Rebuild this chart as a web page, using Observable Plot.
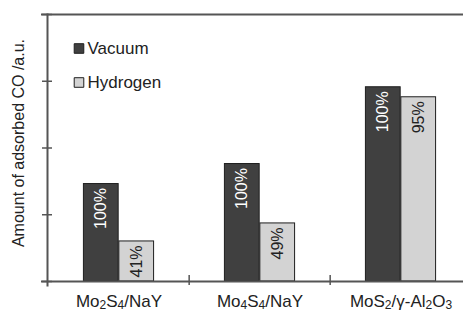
<!DOCTYPE html>
<html>
<head>
<meta charset="utf-8">
<script src="https://cdn.jsdelivr.net/npm/d3@7"></script>
<script src="https://cdn.jsdelivr.net/npm/@observablehq/plot@0.6"></script>
<style>
  html, body { margin: 0; padding: 0; background: #fff; }
  #chart svg { display: block; }
</style>
</head>
<body>
<div id="chart"></div>
<script>
const categories = ["Mo2S4/NaY", "Mo4S4/NaY", "MoS2/γ-Al2O3"];
const vacuum = [1.46, 1.76, 2.91];
const hydrogen = [0.60, 0.87, 2.76];
const vacuumLabels = ["100%", "100%", "100%"];
const hydrogenLabels = ["41%", "49%", "95%"];
const seriesNames = ["Vacuum", "Hydrogen"];
const seriesColors = ["#404040", "#d3d3d3"];
const yTicks = [0, 1, 2, 3, 4];
const yLabel = "Amount of adsorbed CO /a.u.";

const W = 463, H = 311;
const mL = 47, mR = -9, mT = 14, mB = 30;
const bw = (W - mR - mL) / categories.length;

const vac = categories.map((c, i) => ({category: c, value: vacuum[i], label: vacuumLabels[i]}));
const hyd = categories.map((c, i) => ({category: c, value: hydrogen[i], label: hydrogenLabels[i]}));

const font = "Liberation Sans, Arial, Helvetica, sans-serif";
const axisColor = "#555";

const plot = Plot.plot({
  width: W,
  height: H,
  marginLeft: mL,
  marginRight: mR,
  marginTop: mT,
  marginBottom: mB,
  style: {fontFamily: font, background: "#fff", color: "#222"},
  x: {domain: categories, padding: 0, label: null},
  y: {domain: [0, 4], label: null},
  marks: [
    // bars
    Plot.barY(vac, {x: "category", y: "value", fill: seriesColors[0], stroke: "#1e1e1e", strokeWidth: 1,
      insetLeft: bw * 0.25, insetRight: bw * 0.5}),
    Plot.barY(hyd, {x: "category", y: "value", fill: seriesColors[1], stroke: "#1e1e1e", strokeWidth: 1,
      insetLeft: bw * 0.5, insetRight: bw * 0.25}),
    // bar labels
    Plot.text(vac, {x: "category", y: "value", text: "label", rotate: -90, textAnchor: "end", lineAnchor: "middle",
      dx: -bw * 0.125, dy: 4, fill: "#fff", fontSize: 16}),
    Plot.text(hyd, {x: "category", y: "value", text: "label", rotate: -90, textAnchor: "end", lineAnchor: "middle",
      dx: bw * 0.125, dy: 4, fill: "#222", fontSize: 16}),
    // frame lines
    Plot.ruleY([0, 4], {stroke: axisColor, strokeWidth: 2, insetLeft: -6}),
    Plot.frame({anchor: "left", stroke: axisColor, strokeWidth: 2, insetBottom: -4}),
    // y ticks (no labels)
    Plot.axisY({ticks: yTicks, tickSize: 10, dx: 5, tickFormat: () => "", label: null, stroke: axisColor, strokeWidth: 1.5}),
    // category boundary ticks
    Plot.ruleX(categories.slice(1), {x: d => d, dx: -bw / 2, insetTop: (H - mT - mB) - 6, insetBottom: -4, stroke: axisColor, strokeWidth: 1.5}),
    // category labels
    Plot.axisX({tickSize: 0, tickPadding: 13, fontSize: 17, label: null, fill: "#222"}),
    // y label
    Plot.text([yLabel], {frameAnchor: "left", rotate: -90, dx: -29, dy: -5, textAnchor: "middle", lineAnchor: "middle", fontSize: 16, fill: "#222"}),
    // legend
    Plot.dot([seriesNames[0]], {frameAnchor: "top-left", dx: 31.5, dy: 34, symbol: "square", r: 5.4, fill: seriesColors[0], stroke: "#1e1e1e", strokeWidth: 1}),
    Plot.dot([seriesNames[1]], {frameAnchor: "top-left", dx: 31.5, dy: 68, symbol: "square", r: 5.4, fill: seriesColors[1], stroke: "#1e1e1e", strokeWidth: 1}),
    Plot.text([seriesNames[0]], {frameAnchor: "top-left", dx: 40, dy: 34, text: d => d, textAnchor: "start", lineAnchor: "middle", fontSize: 17, fill: "#222"}),
    Plot.text([seriesNames[1]], {frameAnchor: "top-left", dx: 40, dy: 68, text: d => d, textAnchor: "start", lineAnchor: "middle", fontSize: 17, fill: "#222"})
  ]
});

// subscripts for the chemical formulas in the category tick labels
d3.select(plot).selectAll('g[aria-label="x-axis tick label"] text').each(function() {
  const el = d3.select(this);
  const s = el.text();
  el.text(null);
  const parts = s.match(/\d+|\D+/g) || [];
  for (const p of parts) {
    if (/\d/.test(p)) {
      el.append("tspan").attr("font-size", 12).attr("baseline-shift", -2).text(p);
    } else {
      el.append("tspan").text(p);
    }
  }
});

document.getElementById("chart").appendChild(plot);
</script>
</body>
</html>
